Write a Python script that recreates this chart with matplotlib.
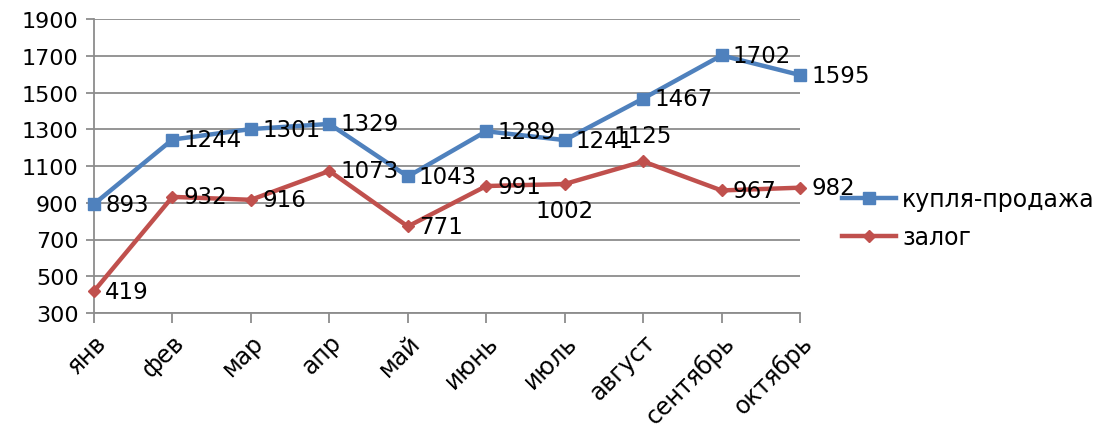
import matplotlib
matplotlib.use("Agg")
import matplotlib.pyplot as plt
from matplotlib.transforms import ScaledTranslation

months = ["янв", "фев", "мар", "апр", "май", "июнь", "июль", "август", "сентябрь", "октябрь"]
sale = [893, 1244, 1301, 1329, 1043, 1289, 1241, 1467, 1702, 1595]
pledge = [419, 932, 916, 1073, 771, 991, 1002, 1125, 967, 982]

# label placement per point (Excel put a couple of them off to the side)
pledge_pos = ["r", "r", "r", "r", "r", "r", "b", "t", "r", "r"]

blue = "#4F81BD"
red = "#C0504D"
grid_c = "#8c8c8c"

plt.rcParams["font.family"] = "DejaVu Sans"
fig = plt.figure(figsize=(11.13, 4.35), dpi=100)
ax = fig.add_axes([94 / 1113, 1 - 314 / 435, 706 / 1113, 294 / 435])

x = list(range(len(months)))
ax.plot(x, sale, color=blue, lw=3.2, marker="s", ms=8, clip_on=False, zorder=3,
        label="купля-продажа")
ax.plot(x, pledge, color=red, lw=3.2, marker="D", ms=6, clip_on=False, zorder=3,
        label="залог")


def put(xi, v, pos):
    if pos == "r":
        off, ha, va = (8, 0), "left", "center"
    elif pos == "b":
        off, ha, va = (0, -19), "center", "center"
    else:
        off, ha, va = (0, 19), "center", "center"
    ax.annotate(str(v), (xi, v), xytext=off, textcoords="offset points",
                ha=ha, va=va, fontsize=16.5, color="black", zorder=5,
                annotation_clip=False)


for i, v in enumerate(sale):
    put(i, v, "r")
for i, v in enumerate(pledge):
    put(i, v, pledge_pos[i])

ax.set_xlim(0, len(months) - 1)
ax.set_ylim(300, 1900)
ax.set_yticks(range(300, 1901, 200))
ax.set_xticks(x)
ax.set_xticklabels(months, rotation=45, ha="right", rotation_mode="anchor")
shift = ScaledTranslation(5 / 100, 0, fig.dpi_scale_trans)
for lab in ax.get_xticklabels():
    lab.set_transform(lab.get_transform() + shift)
ax.yaxis.grid(True, color=grid_c, lw=1.3)
ax.set_axisbelow(True)
for s in ["top", "right"]:
    ax.spines[s].set_visible(False)
for s in ["left", "bottom"]:
    ax.spines[s].set_color(grid_c)
    ax.spines[s].set_linewidth(1.3)
ax.tick_params(axis="y", length=6, width=1.3, color=grid_c, labelsize=16, pad=5)
ax.tick_params(axis="x", length=7, width=1.3, color=grid_c, labelsize=17, pad=5)

fig.legend(loc="center left", bbox_to_anchor=(842 / 1113, 1 - 219 / 435),
           frameon=False, fontsize=17, handlelength=2.3, handletextpad=0.25,
           labelspacing=0.6, borderpad=0, borderaxespad=0)

fig.savefig("out.png", dpi=100)
